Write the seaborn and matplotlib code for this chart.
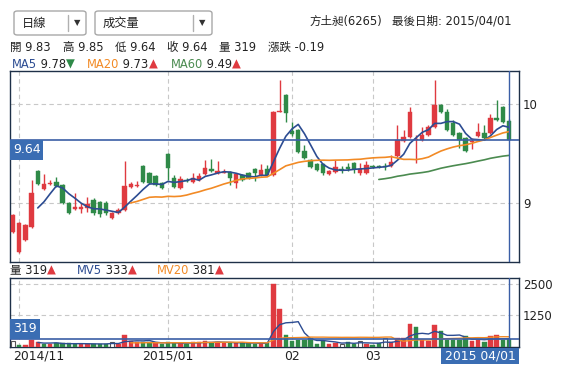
import numpy as np
import pandas as pd
import matplotlib
matplotlib.use("Agg")
import matplotlib.pyplot as plt
import matplotlib.transforms as mtransforms
from matplotlib.patches import Rectangle, FancyBboxPatch
from matplotlib.lines import Line2D
import seaborn as sns

# ---------------- data ----------------
opens = [8.71, 8.51, 8.63, 8.76, 9.32, 9.14, 9.20, 9.21, 9.18, 9.00,
         8.95, 8.95, 8.95, 9.03, 9.01, 9.00, 8.85, 8.90, 8.93, 9.16,
         9.18, 9.37, 9.30, 9.27, 9.20, 9.49, 9.25, 9.15, 9.24, 9.21,
         9.23, 9.29, 9.34, 9.30, 9.31, 9.31, 9.20, 9.28, 9.30, 9.34,
         9.28, 9.34, 9.28, 9.92, 10.09, 9.73, 9.74, 9.52, 9.43, 9.39,
         9.39, 9.29, 9.31, 9.35, 9.36, 9.40, 9.30, 9.30, 9.38, 9.38,
         9.38, 9.37, 9.47, 9.63, 9.67, 9.64, 9.64, 9.69, 9.77, 9.99,
         9.92, 9.81, 9.71, 9.66, 9.62, 9.68, 9.71, 9.71, 9.86, 9.97,
         9.83]
closes = [8.88, 8.80, 8.78, 9.10, 9.19, 9.19, 9.21, 9.17, 9.00, 8.90,
          8.96, 8.96, 8.99, 8.90, 8.89, 8.90, 8.90, 8.93, 9.17, 9.19,
          9.19, 9.21, 9.20, 9.18, 9.15, 9.35, 9.16, 9.24, 9.23, 9.25,
          9.27, 9.35, 9.32, 9.32, 9.32, 9.25, 9.29, 9.23, 9.25, 9.30,
          9.33, 9.28, 9.92, 9.93, 9.91, 9.70, 9.51, 9.45, 9.36, 9.33,
          9.30, 9.32, 9.36, 9.34, 9.34, 9.34, 9.34, 9.38, 9.37, 9.37,
          9.37, 9.41, 9.64, 9.67, 9.92, 9.65, 9.69, 9.77, 9.99, 9.92,
          9.74, 9.69, 9.64, 9.52, 9.63, 9.72, 9.66, 9.86, 9.84, 9.82,
          9.64]
highs = [8.89, 8.81, 8.79, 9.23, 9.33, 9.29, 9.23, 9.26, 9.19, 9.01,
         9.10, 9.00, 9.06, 9.05, 9.02, 9.02, 8.91, 8.95, 9.42, 9.21,
         9.22, 9.38, 9.31, 9.28, 9.21, 9.50, 9.28, 9.27, 9.25, 9.30,
         9.30, 9.43, 9.44, 9.42, 9.34, 9.32, 9.30, 9.29, 9.31, 9.35,
         9.39, 9.38, 9.93, 10.24, 10.10, 9.82, 9.75, 9.59, 9.44, 9.40,
         9.40, 9.33, 9.43, 9.37, 9.40, 9.41, 9.40, 9.42, 9.38, 9.38,
         9.40, 9.48, 9.79, 9.74, 9.97, 9.69, 9.77, 9.79, 10.24, 10.00,
         9.95, 9.84, 9.72, 9.67, 9.66, 9.81, 9.79, 9.90, 10.04, 9.98,
         9.85]
lows = [8.70, 8.49, 8.62, 8.75, 9.18, 9.13, 9.18, 9.16, 8.99, 8.89,
        8.93, 8.90, 8.91, 8.88, 8.86, 8.88, 8.84, 8.89, 8.92, 9.15,
        9.16, 9.20, 9.19, 9.17, 9.14, 9.23, 9.15, 9.14, 9.21, 9.20,
        9.22, 9.28, 9.31, 9.29, 9.30, 9.18, 9.15, 9.22, 9.24, 9.22,
        9.27, 9.27, 9.27, 9.92, 9.82, 9.68, 9.50, 9.44, 9.35, 9.32,
        9.28, 9.28, 9.30, 9.30, 9.32, 9.30, 9.28, 9.29, 9.35, 9.35,
        9.33, 9.36, 9.46, 9.62, 9.66, 9.40, 9.63, 9.68, 9.76, 9.91,
        9.73, 9.68, 9.56, 9.51, 9.55, 9.67, 9.65, 9.70, 9.83, 9.81,
        9.64]
volumes = [250, 90, 90, 290, 185, 120, 100, 140, 150, 150,
           120, 110, 120, 130, 130, 120, 200, 110, 490, 250,
           180, 180, 200, 150, 120, 200, 150, 160, 120, 190,
           200, 230, 170, 200, 150, 170, 160, 170, 150, 120,
           150, 140, 2510, 1510, 490, 225, 290, 290, 360, 130,
           225, 130, 160, 130, 180, 130, 250, 130, 90, 150,
           360, 180, 360, 360, 926, 780, 290, 225, 886, 622,
           290, 290, 290, 450, 225, 290, 185, 420, 480, 260,
           319]
vol_codes = ("wgrrrgrggg" "grrgggwrrr" "rggrgggrgr" "rrgrrgrggg"
             "rgrrgggggg" "grrwggwrgg" "wrrrrgrrrg" "ggggrrgrrg" "g")
month_labels = ["2014/11", "2015/01", "02", "03"]
month_pos = [1, 25, 45, 58]
price_ticks = [9, 10]
vol_ticks = [1250, 2500]
last_price = 9.64
last_vol = 319
last_date = "2015 04/01"

# ---------------- style ----------------
sns.set_theme(style="white")
plt.rcParams['font.family'] = ['DejaVu Sans', 'Noto Sans CJK TC']

RED = '#df3a40'
GREEN = '#2f8a48'
BLUE = '#2c4c92'
ORANGE = '#f28a25'
MGREEN = '#4b8b50'
LINEBLUE = '#3b5fa6'
BOXBLUE = '#3a6db3'
BORDER = '#1e3048'
GRID = '#c8c8c8'

W, H = 572, 375
fig = plt.figure(figsize=(W / 100, H / 100), dpi=100)
fig.patch.set_facecolor('white')


def fx(x):
    return x / W


def fy(y):
    return 1 - y / H


df = pd.DataFrame({'i': np.arange(len(closes)), 'open': opens, 'high': highs,
                   'low': lows, 'close': closes, 'vol': volumes})
df['ma5'] = df['close'].rolling(5).mean()
df['ma20'] = df['close'].rolling(20).mean()
df['ma60'] = df['close'].rolling(60).mean()
df['mv5'] = df['vol'].rolling(5).mean()
df['mv20'] = df['vol'].rolling(20).mean()

ax = fig.add_axes([fx(10), fy(262), (519 - 10) / W, (262 - 71) / H])
axv = fig.add_axes([fx(10), fy(347), (519 - 10) / W, (347 - 278) / H])

XL = (-0.48, 81.6)
dash = (0, (4, 3))

# ---------------- price panel ----------------
for yv in price_ticks:
    ax.axhline(yv, color=GRID, lw=0.8, ls=dash, zorder=0)
for xv in month_pos:
    ax.axvline(xv, color=GRID, lw=0.8, ls=dash, zorder=0)

bw = 0.72
for r in df.itertuples():
    col = RED if r.close >= r.open else GREEN
    ax.vlines(r.i, r.low, r.high, color=col, lw=1.0, zorder=3)
    lo, hi = min(r.open, r.close), max(r.open, r.close)
    h = max(hi - lo, 0.012)
    ax.bar(r.i, h, bottom=lo if hi - lo >= 0.012 else lo - 0.006, width=bw,
           color=col, edgecolor=col, lw=0.3, zorder=3)

sns.lineplot(data=df, x='i', y='ma5', ax=ax, color=BLUE, lw=1.2, zorder=4)
sns.lineplot(data=df, x='i', y='ma20', ax=ax, color=ORANGE, lw=1.2, zorder=4)
sns.lineplot(data=df, x='i', y='ma60', ax=ax, color=MGREEN, lw=1.2, zorder=4)

ax.axhline(last_price, color=LINEBLUE, lw=1.2, zorder=5)
ax.axvline(len(closes) - 1, color=LINEBLUE, lw=1.0, zorder=5)
trp = mtransforms.blended_transform_factory(ax.transAxes, ax.transData)
ax.add_patch(Rectangle((0, last_price), 33 / 509, -20 / 99, transform=trp,
                       facecolor=BOXBLUE, edgecolor='none', zorder=6, clip_on=False))
ax.text(3 / 509, last_price - 10 / 99, f"{last_price:.2f}", transform=trp, color='white',
        fontsize=9, va='center', ha='left', zorder=7)

ax.set_xlim(*XL)
ax.set_ylim(8.404, 10.333)
ax.yaxis.tick_right()
ax.set_yticks(price_ticks)
ax.set_yticklabels([str(t) for t in price_ticks], fontsize=8.5, color='#222222')
ax.tick_params(axis='y', length=0, pad=3)
ax.set_xticks([])
ax.set_xlabel('')
ax.set_ylabel('')
for s in ax.spines.values():
    s.set_color(BORDER)
    s.set_linewidth(1.0)

# ---------------- volume panel ----------------
for yv in vol_ticks:
    axv.axhline(yv, color=GRID, lw=0.8, ls=dash, zorder=0)
for xv in month_pos:
    axv.axvline(xv, color=GRID, lw=0.8, ls=dash, zorder=0)

for i, (v, c) in enumerate(zip(volumes, vol_codes)):
    if c == 'w':
        axv.bar(i, v, width=bw - 0.1, facecolor='white', edgecolor='#555555', lw=0.8, zorder=3)
    else:
        col = RED if c == 'r' else GREEN
        axv.bar(i, v, width=bw, color=col, edgecolor=col, lw=0.3, zorder=3)

sns.lineplot(data=df, x='i', y='mv5', ax=axv, color=BLUE, lw=1.0, zorder=4)
sns.lineplot(data=df, x='i', y='mv20', ax=axv, color=ORANGE, lw=1.0, zorder=4)

axv.axhline(last_vol, color=LINEBLUE, lw=1.2, zorder=5)
axv.axvline(len(closes) - 1, color=LINEBLUE, lw=1.0, zorder=5)
trv = mtransforms.blended_transform_factory(axv.transAxes, axv.transData)
vpp = 2738 / 69
axv.add_patch(Rectangle((0, last_vol), 30 / 509, 20 * vpp, transform=trv,
                        facecolor=BOXBLUE, edgecolor='none', zorder=6, clip_on=False))
axv.text(3 / 509, last_vol + 10 * vpp, str(last_vol), transform=trv, color='white',
         fontsize=9, va='center', ha='left', zorder=7)

axv.set_xlim(*XL)
axv.set_ylim(0, 2738)
axv.yaxis.tick_right()
axv.set_yticks(vol_ticks)
axv.set_yticklabels([str(t) for t in vol_ticks], fontsize=8.5, color='#222222')
axv.tick_params(axis='y', length=0, pad=3)
axv.set_xticks([])
axv.set_xlabel('')
axv.set_ylabel('')
for s in axv.spines.values():
    s.set_color(BORDER)
    s.set_linewidth(1.0)

# month labels under volume panel
trx = mtransforms.blended_transform_factory(axv.transData, fig.transFigure)
for lab, pos in zip(month_labels, month_pos):
    if pos == month_pos[0]:
        fig.text(fx(13), fy(356), lab, fontsize=8.9, color='#222222', ha='left', va='center')
    else:
        fig.text(pos, fy(356), lab, transform=trx, fontsize=8.9, color='#222222',
                 ha='center', va='center')
fig.add_artist(Rectangle((fx(441), fy(364)), 78 / W, 16 / H, transform=fig.transFigure,
                         facecolor=BOXBLUE, edgecolor='none'))
fig.text(fx(480), fy(356), last_date, fontsize=8.9, color='white', ha='center', va='center')

# ---------------- header ----------------
for (x0, x1, xd, label) in [(14, 86, 68, "日線"), (95, 212, 193, "成交量")]:
    fig.add_artist(FancyBboxPatch((fx(x0), fy(35)), (x1 - x0) / W, 24 / H,
                                  boxstyle="round,pad=0,rounding_size=0.006",
                                  transform=fig.transFigure, facecolor='white',
                                  edgecolor='#a8a8a8', lw=1.0))
    fig.add_artist(Line2D([fx(xd), fx(xd)], [fy(15), fy(31)], transform=fig.transFigure,
                          color='#b0b0b0', lw=1.0))
    fig.text(fx(x0 + 8), fy(23), label, fontsize=8.8, color='#222222', ha='left', va='center')
    fig.text(fx((xd + x1) / 2), fy(23), "▼", fontsize=6, color='#333333', ha='center', va='center')

fig.text(fx(310), fy(21), "方土昶(6265)", fontsize=8.3, color='#222222', ha='left', va='center')
fig.text(fx(512), fy(21), "最後日期: 2015/04/01", fontsize=8.3, color='#222222',
         ha='right', va='center')

renderer = fig.canvas.get_renderer()


def row(x, y, pieces, size=8.3):
    for txt, col in pieces:
        t = fig.text(fx(x), fy(y), txt, color=col, fontsize=size, ha='left', va='center')
        bb = t.get_window_extent(renderer=renderer)
        x += bb.width


K = '#222222'
for x0, pieces in [(10, [("開 9.83", K)]), (63, [("高 9.85", K)]), (115, [("低 9.64", K)]),
                   (167, [("收 9.64", K)]), (219, [("量 319", K)]), (268, [("漲跌 -0.19", K)])]:
    row(x0, 47, pieces)

row(12, 64, [("MA5", BLUE), (" 9.78", K), ("▼", GREEN)])
row(87, 64, [("MA20", ORANGE), (" 9.73", K), ("▲", RED)])
row(171, 64, [("MA60", MGREEN), (" 9.49", K), ("▲", RED)])

row(10, 270, [("量 319", K), ("▲", RED)])
row(77, 270, [("MV5", BLUE), (" 333", K), ("▲", RED)])
row(157, 270, [("MV20", ORANGE), (" 381", K), ("▲", RED)])

fig.savefig("out.png", dpi=100, facecolor='white')
